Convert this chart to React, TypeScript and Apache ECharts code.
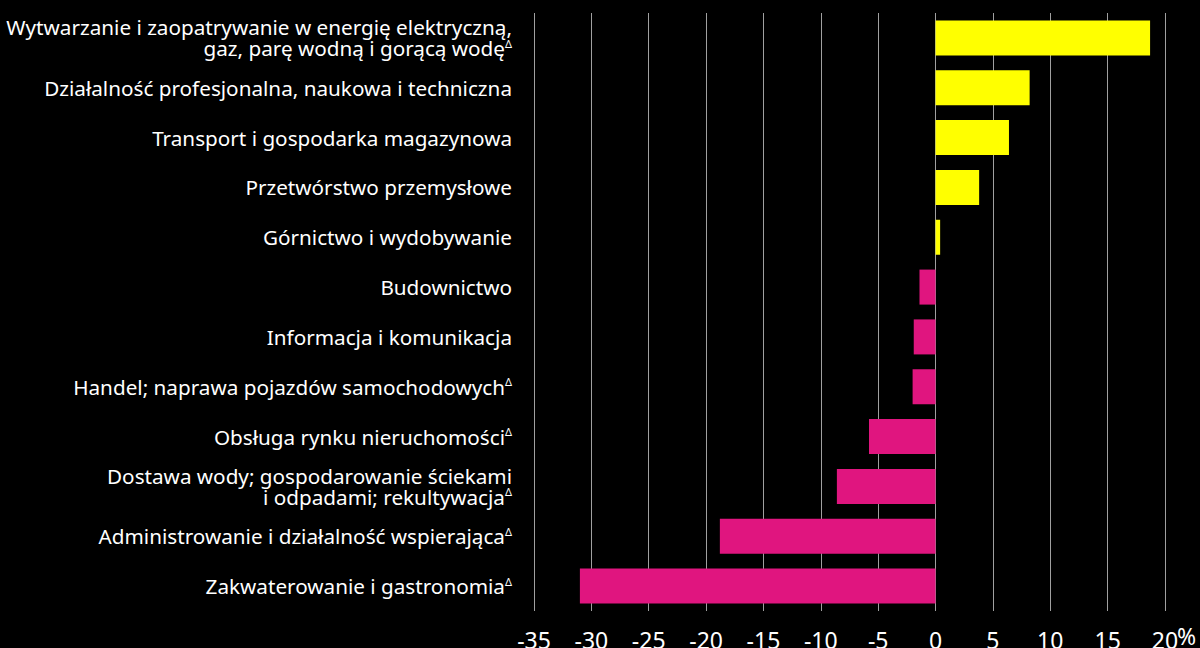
import React, { useEffect, useRef } from "react";
import * as echarts from "echarts";

const categories = [
  "Wytwarzanie i zaopatrywanie w energię elektryczną,\ngaz, parę wodną i gorącą wodę{d|Δ}",
  "Działalność profesjonalna, naukowa i techniczna",
  "Transport i gospodarka magazynowa",
  "Przetwórstwo przemysłowe",
  "Górnictwo i wydobywanie",
  "Budownictwo",
  "Informacja i komunikacja",
  "Handel; naprawa pojazdów samochodowych{d|Δ}",
  "Obsługa rynku nieruchomości{d|Δ}",
  "Dostawa wody; gospodarowanie ściekami\ni odpadami; rekultywacja{d|Δ}",
  "Administrowanie i działalność wspierająca{d|Δ}",
  "Zakwaterowanie i gastronomia{d|Δ}",
];

const values = [18.7, 8.2, 6.4, 3.8, 0.4, -1.4, -1.9, -2.0, -5.8, -8.6, -18.8, -31.0];

const xMin = -35;
const xMax = 20;
const xStep = 5;
const unitLabel = "%";

const POS = "#ffff00";
const NEG = "#e0157f";

export default function App() {
  const ref = useRef<HTMLDivElement>(null);
  useEffect(() => {
    document.body.style.margin = "0";
    document.body.style.background = "#000";
    const chart = echarts.init(ref.current!, null, { renderer: "svg" });
    chart.setOption({
      animation: false,
      backgroundColor: "#000",
      textStyle: { fontFamily: "Noto Sans" },
      grid: {
        left: 534,
        right: 35,
        top: 13,
        bottom: 37,
        containLabel: false,
        outerBoundsMode: "none",
      },
      xAxis: {
        type: "value",
        min: xMin,
        max: xMax,
        interval: xStep,
        axisLine: { show: false },
        axisTick: { show: false },
        splitLine: { show: true, lineStyle: { color: "#a0a0a0", width: 1 } },
        axisLabel: {
          color: "#fff",
          fontSize: 23,
          fontFamily: "Noto Sans",
          margin: 17,
        },
      },
      yAxis: {
        type: "category",
        data: categories,
        inverse: true,
        axisLine: { show: false },
        axisTick: { show: false },
        splitLine: { show: false },
        axisLabel: {
          color: "#fff",
          fontSize: 20.7,
          fontFamily: "Noto Sans",
          lineHeight: 21,
          margin: 22,
          align: "right",
          rich: {
            d: { fontSize: 11, verticalAlign: "top", color: "#fff", fontFamily: "Noto Sans", lineHeight: 11 },
          },
        },
      },
      series: [
        {
          type: "bar",
          data: values,
          barWidth: 35,
          itemStyle: {
            color: (p: any) => (p.value >= 0 ? POS : NEG),
          },
        },
      ],
      graphic: [
        {
          type: "text",
          left: 1177,
          top: 624,
          style: { text: unitLabel, fill: "#fff", font: "23px 'Noto Sans'" },
        },
      ],
    });
    return () => chart.dispose();
  }, []);
  return <div ref={ref} style={{ width: 1200, height: 648, background: "#000" }} />;
}
